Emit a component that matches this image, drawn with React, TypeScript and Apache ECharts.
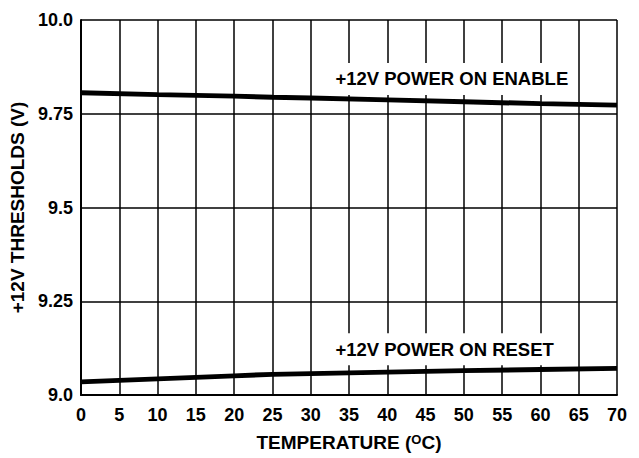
import React, { useEffect, useRef } from "react";
import * as echarts from "echarts";

const temperatures = [0, 10, 20, 25, 30, 40, 50, 60, 70];
const enableValues = [9.806, 9.801, 9.797, 9.794, 9.792, 9.787, 9.782, 9.777, 9.773];
const resetValues = [9.035, 9.043, 9.051, 9.055, 9.057, 9.061, 9.065, 9.068, 9.071];
const yTickValues = [9.0, 9.25, 9.5, 9.75, 10.0];
const yTickLabels = ["9.0", "9.25", "9.5", "9.75", "10.0"];
const enableLabel = "+12V POWER ON ENABLE";
const resetLabel = "+12V POWER ON RESET";
const enableLabelPos = [32.7, 9.843];
const resetLabelPos = [32.7, 9.122];

const FONT = "'Liberation Sans', Arial, Helvetica, sans-serif";

export default function App() {
  const ref = useRef<HTMLDivElement>(null);
  useEffect(() => {
    if (!ref.current) return;
    const chart = echarts.init(ref.current, null, { renderer: "svg" });
    const labelStyle = {
      show: true,
      position: "right",
      distance: 0,
      color: "#000",
      fontFamily: FONT,
      fontWeight: "bold",
      fontSize: 18.5,
      backgroundColor: "#fff",
      padding: [5, 4, 8, 4],
    };
    const mkLine = (vals: number[], text: string, pos: number[]) => ({
      type: "line",
      data: temperatures.map((t, i) => [t, vals[i]]),
      symbol: "none",
      lineStyle: { color: "#000", width: 5 },
      z: 3,
      markPoint: {
        symbol: "circle",
        symbolSize: 0,
        silent: true,
        data: [{ coord: pos, label: { ...labelStyle, formatter: text } }],
      },
    });
    chart.setOption({
      animation: false,
      grid: { left: 81, right: 22, top: 20, bottom: 63 },
      xAxis: {
        type: "value",
        min: 0,
        max: 70,
        interval: 5,
        name: "TEMPERATURE ({sup|O}C)",
        nameLocation: "middle",
        nameGap: 38,
        nameTextStyle: {
          color: "#000",
          fontFamily: FONT,
          fontWeight: "bold",
          fontSize: 19,
          rich: {
            sup: {
              fontFamily: FONT,
              fontWeight: "bold",
              fontSize: 13,
              verticalAlign: "top",
              color: "#000",
            },
          },
        },
        axisLine: { show: true, lineStyle: { color: "#000", width: 2 } },
        axisTick: { show: false },
        axisLabel: {
          color: "#000",
          fontFamily: FONT,
          fontWeight: "bold",
          fontSize: 18,
          margin: 11,
        },
        splitLine: { show: true, lineStyle: { color: "#000", width: 1.5 } },
      },
      yAxis: {
        type: "value",
        min: 9.0,
        max: 10.0,
        interval: 0.25,
        name: "+12V THRESHOLDS (V)",
        nameLocation: "middle",
        nameGap: 51,
        nameTextStyle: {
          color: "#000",
          fontFamily: FONT,
          fontWeight: "bold",
          fontSize: 19,
        },
        axisLine: { show: true, lineStyle: { color: "#000", width: 2 } },
        axisTick: { show: false },
        axisLabel: {
          color: "#000",
          fontFamily: FONT,
          fontWeight: "bold",
          fontSize: 18,
          margin: 8,
          formatter: (v: number) => {
            const i = yTickValues.findIndex((t) => Math.abs(t - v) < 1e-6);
            return i >= 0 ? yTickLabels[i] : String(v);
          },
        },
        splitLine: { show: true, lineStyle: { color: "#000", width: 1.5 } },
      },
      series: [
        mkLine(enableValues, enableLabel, enableLabelPos),
        mkLine(resetValues, resetLabel, resetLabelPos),
      ],
    });
    return () => chart.dispose();
  }, []);
  return <div ref={ref} style={{ width: 639, height: 458, position: "absolute", left: 0, top: 0 }} />;
}
